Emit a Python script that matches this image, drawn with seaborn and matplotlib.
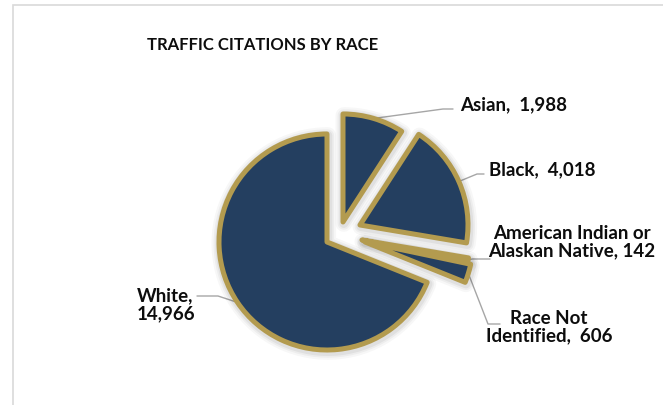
import numpy as np
import matplotlib.pyplot as plt
from matplotlib.patches import Rectangle
import seaborn as sns

# data
races = ["Asian", "Black", "American Indian or\nAlaskan Native", "Race Not\nIdentified", "White"]
citations = [1988, 4018, 142, 606, 14966]
label_seps = [",  ", ",  ", ", ", ",  ", ",\n"]
# slice pull-out, pixels (right, up)
pull_px = [(16, 20), (33, 17), (35, 2), (38, 0), (0, 0)]

NAVY = "#243F60"
GOLD = "#B39B4F"
LEADER = "#A6A6A6"

W, H = 663, 406
R_PX = 108           # pie radius in pixels
CX, CY = 327, 243    # pie centre in image pixels (y down)


def px(x, y):
    """image pixel -> data coords of the pie axes"""
    return ((x - CX) / R_PX, (CY - y) / R_PX)


sns.set_theme(style="white")
plt.rcParams["font.family"] = ["Lato", "DejaVu Sans"]

fig = plt.figure(figsize=(W / 100, H / 100), dpi=100)
ax = fig.add_axes([0, 0, 1, 1])

# soft shadow under the slices
for lw, alpha in [(12, 0.03), (9, 0.04), (6.5, 0.05)]:
    sh, _ = ax.pie(
        citations,
        startangle=90,
        counterclock=False,
        colors=["#000000"] * len(citations),
        wedgeprops=dict(edgecolor="#000000", linewidth=lw, alpha=alpha,
                        joinstyle="round"),
    )
    for w, (dx, dy) in zip(sh, pull_px):
        w.set_center(((dx + 0.8) / R_PX, (dy - 1.5) / R_PX))

wedges, _ = ax.pie(
    citations,
    startangle=90,
    counterclock=False,
    colors=[NAVY] * len(citations),
    wedgeprops=dict(edgecolor=GOLD, linewidth=3.6, joinstyle="round"),
)
for w, (dx, dy) in zip(wedges, pull_px):
    w.set_center((dx / R_PX, dy / R_PX))

ax.set_xlim(px(0, 0)[0], px(W, 0)[0])
ax.set_ylim(px(0, H)[1], px(0, 0)[1])
ax.set_aspect("equal")
ax.axis("off")

# label text positions, leader elbows and stub ends (pixels)
label_xy = [(460, 105), (489, 170), (572, 242), (549, 327), (137, 305)]
label_ha = ["left", "left", "center", "center", "left"]
elbows = [(443, 110), (477, 175), (472, 260), (488, 325), (218, 297)]
stubs = [(453, 110), (484, 175), (490, 260), (500, 325), (197, 297)]

for w, name, sep, val, xy, ha, el, st in zip(
    wedges, races, label_seps, citations, label_xy, label_ha, elbows, stubs
):
    mid = np.deg2rad((w.theta1 + w.theta2) / 2)
    ax0 = w.center[0] + w.r * np.cos(mid)
    ay0 = w.center[1] + w.r * np.sin(mid)
    ex, ey = px(*el)
    sx, sy = px(*st)
    ax.plot([ax0, ex, sx], [ay0, ey, sy], color=LEADER, lw=1.0, zorder=0.5)
    tx, ty = px(*xy)
    ax.text(tx, ty, f"{name}{sep}{val:,}", ha=ha, va="center",
            multialignment=ha, fontsize=13.5, fontweight="bold",
            color="#0D0D0D", linespacing=1.05)

fig.text(263 / W, 1 - 45 / H, "TRAFFIC CITATIONS BY RACE", ha="center",
         va="center", fontsize=12, fontweight="bold", color="#0D0D0D")

fig.patches.append(Rectangle((12.5 / W, -0.1), 1.2, 1 - 5.5 / H + 0.1,
                             transform=fig.transFigure, fill=False,
                             edgecolor="#D9D9D9", lw=1.2))

fig.savefig("out.png", dpi=100)
